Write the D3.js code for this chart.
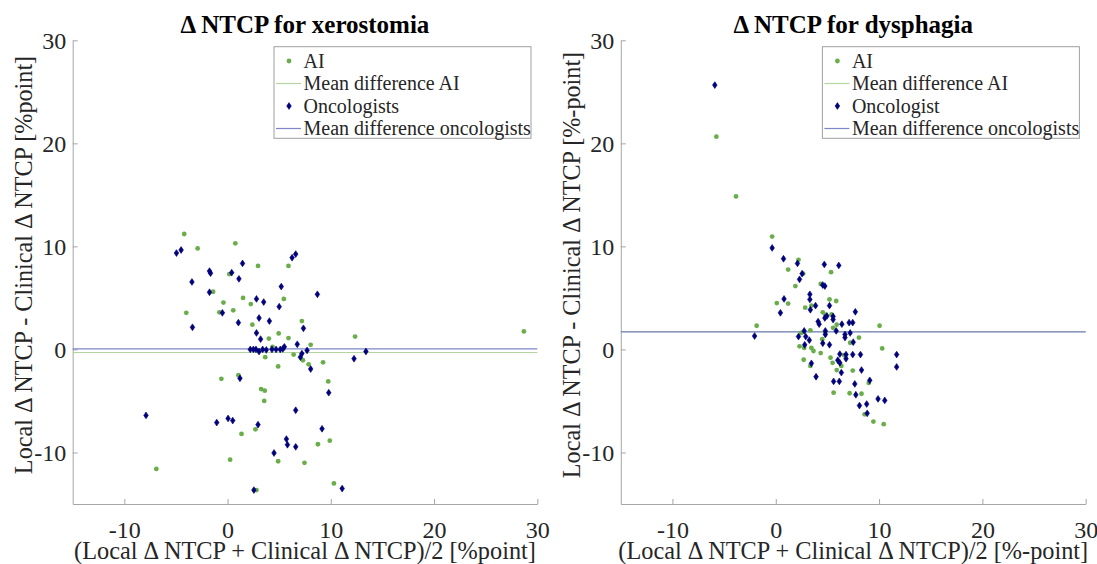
<!DOCTYPE html>
<html><head><meta charset="utf-8">
<script src="https://cdn.jsdelivr.net/npm/d3@7"></script>
<style>
html,body{margin:0;padding:0;background:#fff;}
svg{display:block;}
text{font-family:"Liberation Serif","Times New Roman",serif;}
</style></head>
<body>
<svg id="chart" width="1097" height="564"></svg>
<script>
// ---- data ----
const xeroAI = [[-4.2,11.2],[-2.9,9.8],[0.75,10.3],[2.95,8.1],[5.9,8.1],[0.17,7.3],[-1.4,5.6],[-0.4,4.55],[1.5,5.0],[2.25,4.4],[5.45,4.9],[-4.0,3.55],[-0.8,3.6],[0.55,3.8],[2.4,2.4],[4.95,1.55],[5.9,1.1],[7.2,2.75],[4.0,1.05],[4.35,0.25],[8.05,0.45],[3.65,-0.75],[6.4,-0.5],[7.3,-1.05],[7.85,-1.45],[9.25,-1.25],[4.9,-1.65],[1.05,-2.5],[-0.6,-2.85],[3.25,-3.85],[3.6,-4.0],[3.55,-5.0],[9.75,-3.1],[1.35,-8.2],[2.7,-7.75],[8.75,-9.2],[9.9,-8.85],[0.25,-10.7],[4.9,-10.85],[7.45,-11.0],[-6.9,-11.6],[10.3,-13.0],[2.8,-13.65],[12.35,1.25],[28.7,1.75]];
const xeroOnc = [[-4.95,9.35],[-4.5,9.65],[-3.45,6.55],[-3.4,2.15],[-1.75,7.6],[-1.65,7.4],[-1.75,5.55],[-0.5,3.55],[0.4,7.45],[1.1,6.85],[1.45,8.35],[1.05,2.6],[2.8,4.9],[3.5,4.6],[3.05,3.05],[4.05,2.75],[5.0,4.15],[5.2,6.1],[6.25,8.9],[6.6,9.25],[8.7,5.35],[2.8,1.6],[3.2,1.0],[7.35,2.05],[6.75,0.5],[2.2,0],[2.5,0],[2.75,0],[3.05,-0.2],[3.4,0],[3.75,-0.05],[4.3,0],[4.7,0],[5.1,0],[5.35,0.05],[5.5,0.25],[7.7,-0.1],[7.05,-0.75],[7.2,-0.4],[8.05,-1.9],[1.2,-2.8],[9.8,-4.2],[-7.9,-6.4],[-1.05,-7.1],[0.05,-6.7],[0.5,-6.9],[2.95,-7.3],[6.6,-5.9],[9.15,-7.7],[5.7,-8.7],[5.8,-9.25],[6.6,-9.45],[4.5,-10.05],[2.55,-13.65],[11.1,-13.5],[12.25,-0.9],[13.4,-0.2]];
const dysAI = [[-5.75,20.65],[-3.85,14.85],[-0.35,10.95],[-1.85,2.3],[2.2,8.7],[1.2,7.75],[2.65,7.35],[1.9,6.15],[5.35,7.5],[4.35,6.35],[0.1,4.5],[1.2,4.45],[2.85,4.05],[3.45,4.25],[5.2,4.85],[5.85,4.7],[4.55,3.6],[4.8,3.35],[5.4,3.4],[5.9,2.4],[5.55,2.1],[4.8,1.65],[3.35,1.85],[2.45,1.6],[2.3,0.3],[2.75,0.15],[3.45,0.15],[3.65,-0.15],[4.35,-0.35],[4.5,1.0],[2.7,-1.0],[3.35,-1.6],[5.3,-0.8],[5.5,-1.3],[5.9,-2.0],[6.35,-1.6],[7.2,0.65],[8.05,1.15],[7.45,-2.05],[5.6,-4.2],[7.15,-4.25],[8.3,-4.3],[9.0,-3.25],[8.6,-6.3],[9.45,-7.0],[10.45,-7.25],[10.05,2.3],[10.3,0.1],[6.6,-0.55]];
const dysOnc = [[-5.9,25.65],[-0.35,9.85],[0.75,8.8],[2.1,8.35],[4.7,8.25],[6.1,8.15],[2.55,7.35],[2.3,6.8],[4.55,6.25],[4.75,6.15],[0.8,4.9],[0.45,3.55],[-2.05,1.3],[3.3,5.35],[3.3,4.85],[3.35,3.85],[3.85,4.25],[5.2,4.25],[4.1,2.7],[4.2,2.45],[4.75,3.05],[4.95,3.25],[5.55,3.2],[5.55,2.9],[7.7,3.65],[6.4,2.45],[7.1,2.6],[7.45,2.6],[2.75,1.8],[2.2,1.25],[2.9,1.25],[3.25,0.9],[2.8,0.45],[4.8,1.8],[4.8,1.45],[5.85,1.8],[6.7,1.45],[6.7,1.15],[7.2,1.6],[7.5,0.7],[4.55,0.6],[5.2,0.45],[6.2,-0.45],[6.8,-0.5],[7.45,-0.5],[8.2,-0.5],[6.0,-1.05],[6.2,-1.3],[6.8,-0.9],[6.35,-2.25],[3.45,-1.35],[3.9,-2.65],[5.6,-3.1],[6.15,-3.1],[8.3,-2.0],[7.65,-3.35],[9.1,-3.0],[7.75,-4.4],[8.1,-5.45],[8.8,-5.3],[8.85,-6.2],[9.9,-4.8],[10.55,-4.95],[11.7,-0.5],[11.7,-1.7]];
const xeroMeans = [-0.3, 0.05];   // [AI, oncologists]
const dysMeans = [1.72, 1.7];
const tickValues = [-10, 0, 10, 20, 30];
const domainX = [-15, 30];
const domainY = [-15, 30];
const titles = ["\u0394 NTCP for xerostomia", "\u0394 NTCP for dysphagia"];
const xLabels = ["(Local \u0394 NTCP + Clinical \u0394 NTCP)/2 [%point]", "(Local \u0394 NTCP + Clinical \u0394 NTCP)/2 [%-point]"];
const yLabels = ["Local \u0394 NTCP - Clinical \u0394 NTCP [%point]", "Local \u0394 NTCP - Clinical \u0394 NTCP [%-point]"];
const legendLabels = [
  ["AI", "Mean difference AI", "Oncologists", "Mean difference oncologists"],
  ["AI", "Mean difference AI", "Oncologist", "Mean difference oncologists"]
];

// ---- styles ----
const GREEN = "#6aae4b", NAVY = "#00007a";
const GREEN_LINE = "#b4d49e", BLUE_LINE = "#7f86c8";
const AXIS = "#a6a6a6", TEXT = "#262626";

const svg = d3.select("#chart");
const panels = [
  {left: 72.7, right: 537.3, ai: xeroAI, onc: xeroOnc, means: xeroMeans},
  {left: 620.8, right: 1085.7, ai: dysAI, onc: dysOnc, means: dysMeans}
];
const plotTop = 40.3, plotBottom = 504;
const diamond = "M0,-3.4L2.3,0L0,3.4L-2.3,0Z";

panels.forEach((p, i) => {
  const x = d3.scaleLinear().domain(domainX).range([p.left, p.right]);
  const y = d3.scaleLinear().domain(domainY).range([plotBottom, plotTop]);
  const g = svg.append("g");

  // axes
  const xa = g.append("g").attr("transform", `translate(0,${plotBottom})`)
    .call(d3.axisBottom(x).tickValues(tickValues).tickSize(-5).tickSizeOuter(0).tickPadding(16.5).tickFormat(d => String(d)));
  const ya = g.append("g").attr("transform", `translate(${p.left},0)`)
    .call(d3.axisLeft(y).tickValues(tickValues).tickSize(-5).tickSizeOuter(0).tickPadding(6.5).tickFormat(d => String(d)));
  [xa, ya].forEach(a => {
    a.select(".domain").attr("stroke", AXIS);
    a.selectAll(".tick line").attr("stroke", AXIS);
    a.selectAll(".tick text").attr("fill", TEXT).style("font-size", "24px")
      .style("font-family", '"Liberation Serif","Times New Roman",serif');
  });
  ya.selectAll(".tick text").attr("dy", "0.33em");

  // mean lines
  g.append("line").attr("x1", x(domainX[0])).attr("x2", x(domainX[1]))
    .attr("y1", y(p.means[0])).attr("y2", y(p.means[0]))
    .attr("stroke", GREEN_LINE).attr("stroke-width", 1.2);
  g.append("line").attr("x1", x(domainX[0])).attr("x2", x(domainX[1]))
    .attr("y1", y(p.means[1])).attr("y2", y(p.means[1]))
    .attr("stroke", BLUE_LINE).attr("stroke-width", 1.2);

  // points
  g.append("g").selectAll("circle").data(p.ai).join("circle")
    .attr("cx", d => x(d[0])).attr("cy", d => y(d[1])).attr("r", 2.4).attr("fill", GREEN);
  g.append("g").selectAll("path").data(p.onc).join("path")
    .attr("transform", d => `translate(${x(d[0])},${y(d[1])})`)
    .attr("d", diamond).attr("fill", NAVY).attr("stroke", NAVY).attr("stroke-width", 0.6);

  // title
  const cx = (p.left + p.right) / 2;
  g.append("text").attr("x", cx).attr("y", 33).attr("text-anchor", "middle")
    .style("font-size", "25px").style("font-weight", "bold").attr("fill", "#000").text(titles[i]);
  // x label
  g.append("text").attr("x", cx).attr("y", 558.5).attr("text-anchor", "middle")
    .style("font-size", "24.3px").attr("fill", TEXT).text(xLabels[i]);
  // y label
  g.append("text").attr("transform", `translate(${p.left - 40.7},265) rotate(-90)`)
    .attr("text-anchor", "middle").style("font-size", "24.2px").attr("fill", TEXT).text(yLabels[i]);

  // legend
  const lx1 = p.right - 263.3, lx2 = p.right - 6.3;
  const lg = g.append("g");
  lg.append("rect").attr("x", lx1).attr("y", 46.7).attr("width", lx2 - lx1).attr("height", 91.6)
    .attr("fill", "#fff").attr("stroke", "#a0a0a0").attr("stroke-width", 1);
  const rows = [61, 83.5, 106, 128.5];
  const tx = lx1 + 29.5;
  rows.forEach((ry, k) => {
    if (k === 0) lg.append("circle").attr("cx", lx1 + 15).attr("cy", ry).attr("r", 2.4).attr("fill", GREEN);
    if (k === 2) lg.append("path").attr("transform", `translate(${lx1 + 15},${ry})`).attr("d", diamond)
      .attr("fill", NAVY).attr("stroke", NAVY).attr("stroke-width", 0.6);
    if (k === 1 || k === 3) lg.append("line").attr("x1", lx1 + 2).attr("x2", lx1 + 27).attr("y1", ry).attr("y2", ry)
      .attr("stroke", k === 1 ? GREEN_LINE : BLUE_LINE).attr("stroke-width", 1.2);
    lg.append("text").attr("x", tx).attr("y", ry + 6.8).style("font-size", "20px").attr("fill", TEXT)
      .text(legendLabels[i][k]);
  });
});
</script>
</body></html>
